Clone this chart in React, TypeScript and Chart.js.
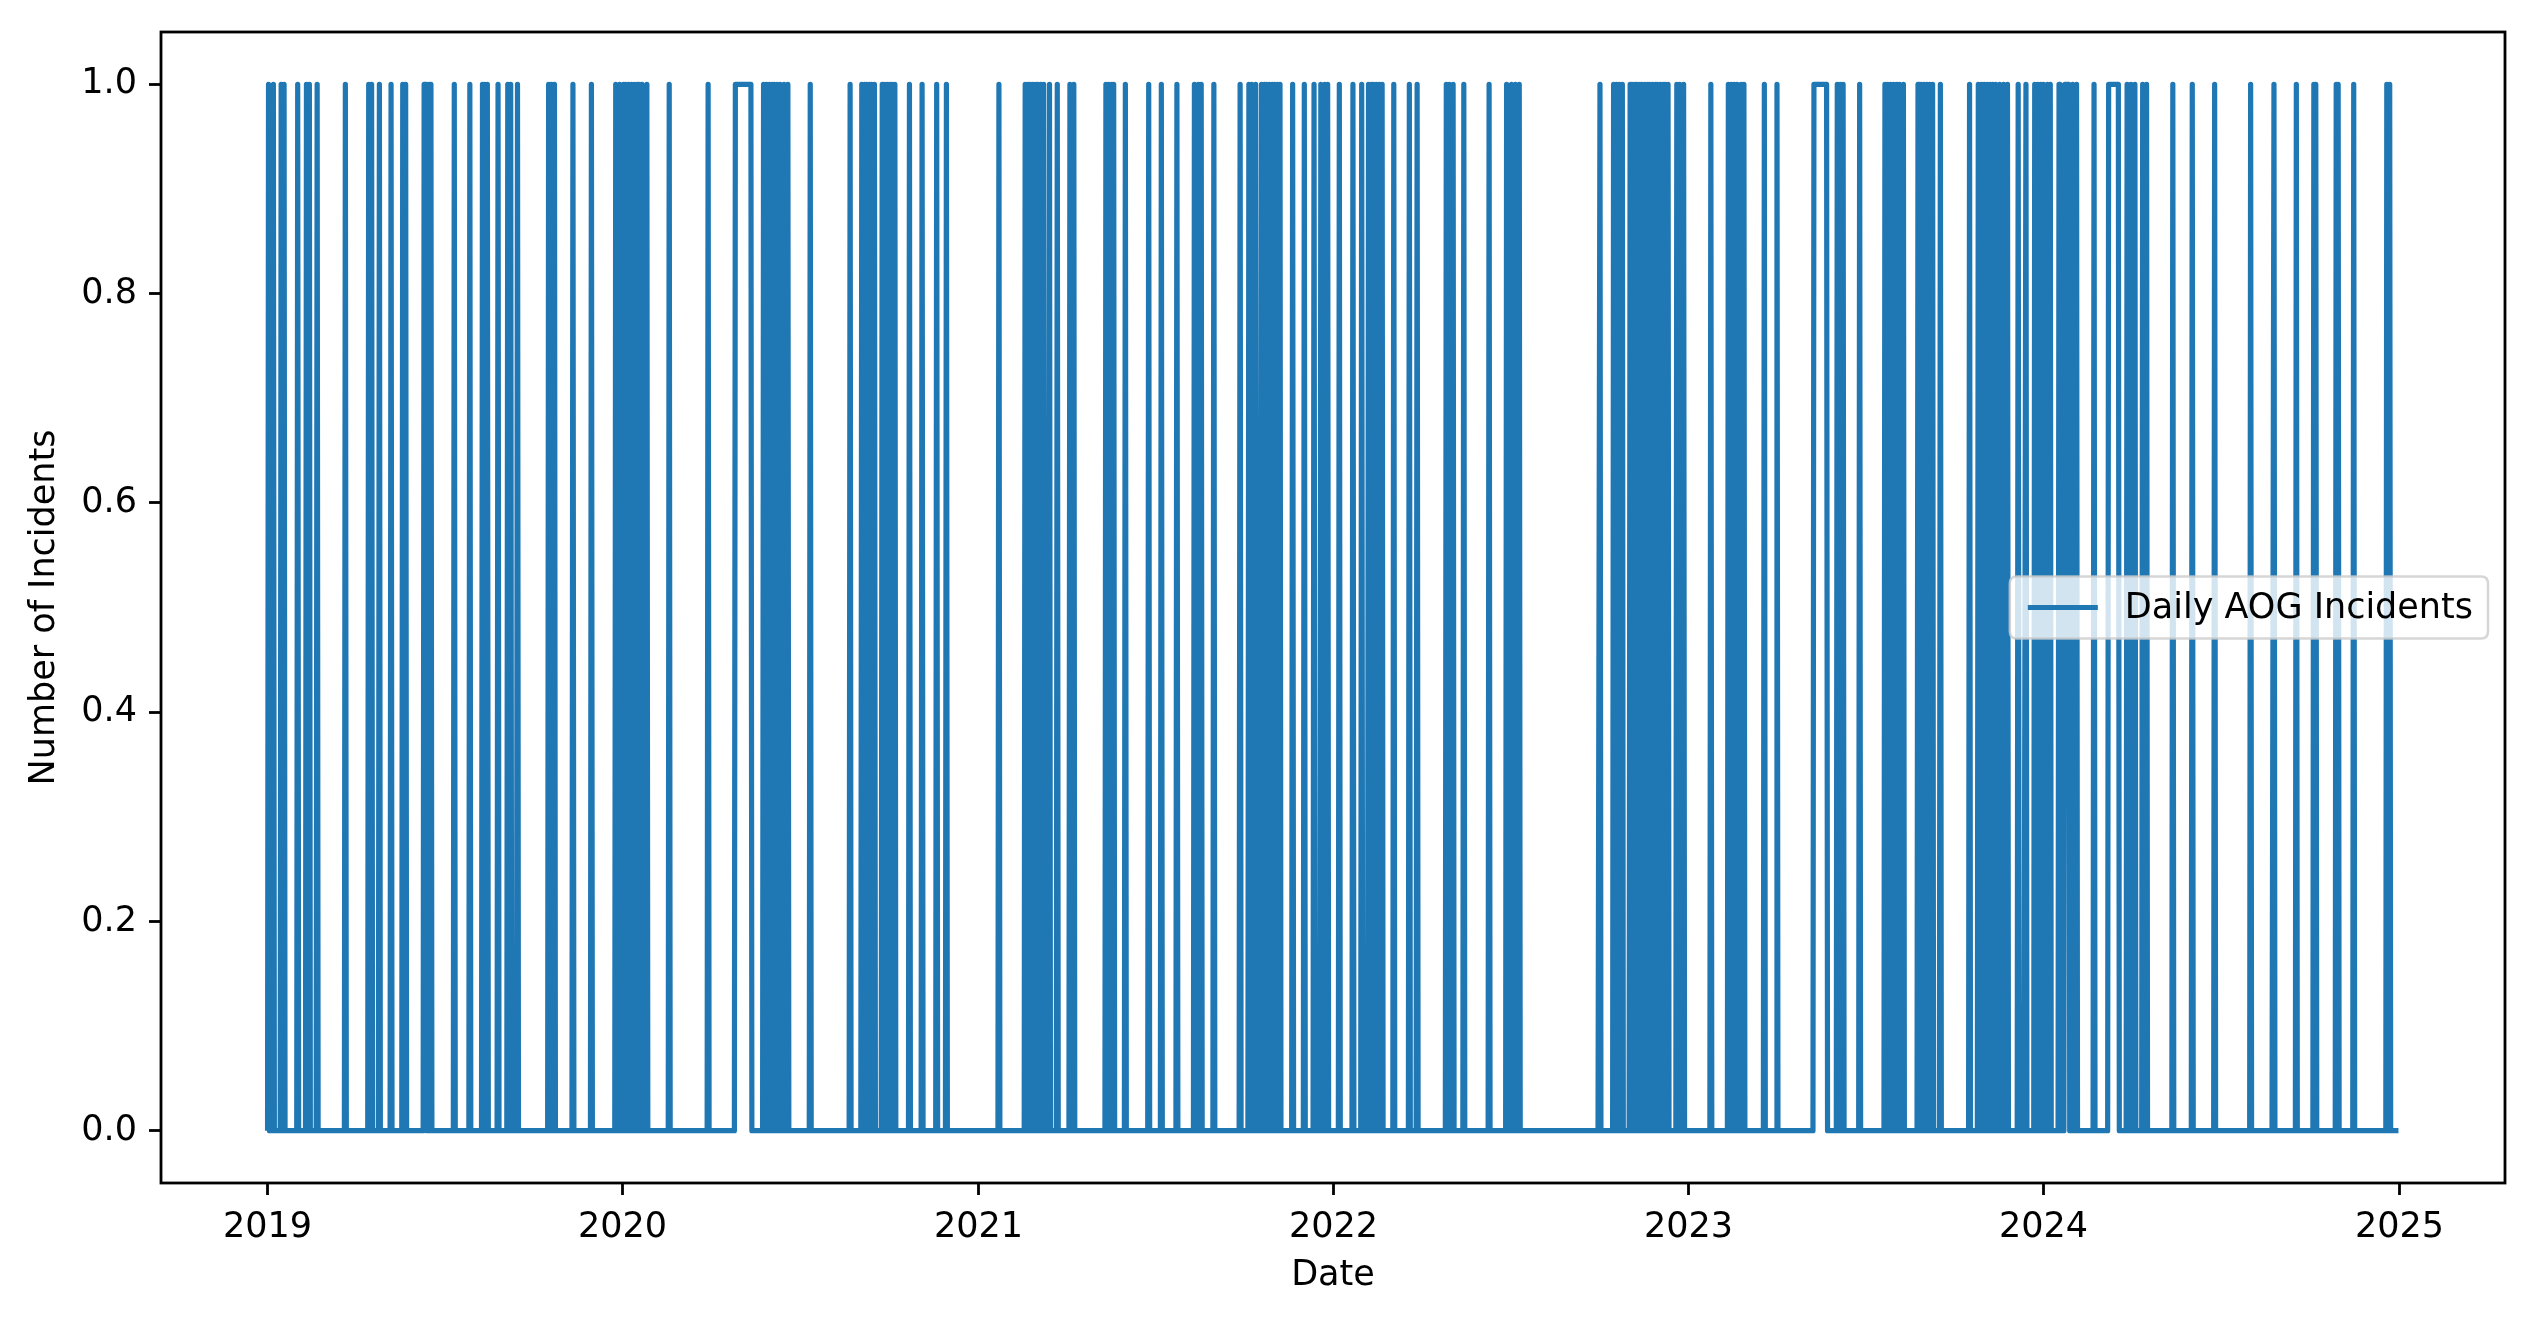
import React, { useEffect, useRef } from "react";
import { Chart, registerables } from "chart.js";

Chart.register(...registerables);

// Day 0 = 2019-01-01, last day = 2024-12-31
const START_DATE = "2019-01-01";
const TOTAL_DAYS = 2192;

// Single days (offset from START_DATE) with one AOG incident
const incidentDays = [
  1, 6, 14, 17, 31, 40, 43, 51, 80, 104, 107, 115, 127, 139, 142, 161, 162, 163, 166, 168,
  192, 208, 221, 223, 226, 237, 247, 250, 257, 289, 292, 295, 314, 333, 358,
  362, 366, 368, 371, 374, 377, 380, 382, 385, 390, 413, 453, 510, 513, 516, 519, 521, 524, 527, 531, 535,
  558, 599, 611, 614, 616, 619, 621, 624, 632, 634, 637, 640, 642, 645, 660, 673, 688, 698,
  752, 779, 782, 784, 787, 790, 792, 795, 798, 804, 812, 825, 829, 862, 865, 868, 870, 882, 906, 919,
  935, 953, 957, 960, 973, 1000, 1009, 1012, 1016, 1022, 1025, 1027, 1030, 1033, 1035, 1038, 1041, 1054, 1066, 1076, 1083, 1087, 1090, 1102,
  1116, 1125, 1132, 1135, 1137, 1140, 1143, 1146, 1158, 1174, 1182, 1212, 1215, 1219, 1230, 1256, 1274, 1279, 1283, 1287,
  1370, 1384, 1387, 1390, 1393, 1401, 1403, 1406, 1408, 1411, 1413, 1416, 1419, 1421, 1424, 1427, 1429, 1432, 1435, 1437, 1440, 1449, 1452, 1456,
  1484, 1502, 1505, 1508, 1511, 1515, 1518, 1539, 1552, 1614, 1617, 1620, 1637,
  1663, 1666, 1669, 1672, 1675, 1678, 1682, 1697, 1700, 1703, 1706, 1709, 1712, 1720, 1750, 1759, 1762, 1765, 1768, 1771, 1774, 1777, 1781, 1785, 1789, 1800, 1808, 1817, 1820, 1823, 1826, 1830, 1833, 1842,
  1856, 1860, 1878, 1912, 1916, 1920, 1928, 1932, 1959, 1979, 2002,
  2039, 2063, 2086, 2104, 2106, 2127, 2129, 2145, 2179, 2182,
];

// Runs of consecutive days with an incident [firstDay, lastDay]
const incidentRuns = [
  [481, 497],
  [1590, 1603],
  [1848, 1852],
  [1893, 1903],
];

const yearTickDays = [0, 365, 731, 1096, 1461, 1826, 2192];
const yearTickLabels = ["2019", "2020", "2021", "2022", "2023", "2024", "2025"];
const yTickValues = [0, 0.2, 0.4, 0.6, 0.8, 1.0];

const SERIES_LABEL = "Daily AOG Incidents";
const X_TITLE = "Date";
const Y_TITLE = "Number of Incidents";
const LINE_COLOR = "#1f77b4";
const FONT = "DejaVu Sans";

function buildSeries() {
  const values = new Array(TOTAL_DAYS).fill(0);
  incidentDays.forEach((d) => {
    if (d >= 0 && d < TOTAL_DAYS) values[d] = 1;
  });
  incidentRuns.forEach(([a, b]) => {
    for (let d = a; d <= b; d++) values[d] = 1;
  });
  return values.map((v, i) => ({ x: i, y: v }));
}

const frameAndLegend = {
  id: "frameAndLegend",
  afterDraw(chart: any) {
    const { ctx, chartArea } = chart;
    const { left, right, top, bottom } = chartArea;
    ctx.save();
    // spines
    ctx.strokeStyle = "#000";
    ctx.lineWidth = 2.8;
    ctx.strokeRect(left, top, right - left, bottom - top);

    // legend (center right)
    ctx.font = `35px "${FONT}"`;
    const textW = ctx.measureText(SERIES_LABEL).width;
    const padL = 18;
    const handle = 70;
    const gap = 27;
    const padR = 15;
    const boxW = padL + handle + gap + textW + padR;
    const boxH = 62;
    const boxRight = right - 17;
    const boxX = boxRight - boxW;
    const cy = (top + bottom) / 2;
    const boxY = cy - boxH / 2;
    const r = 7;
    ctx.beginPath();
    ctx.moveTo(boxX + r, boxY);
    ctx.lineTo(boxX + boxW - r, boxY);
    ctx.quadraticCurveTo(boxX + boxW, boxY, boxX + boxW, boxY + r);
    ctx.lineTo(boxX + boxW, boxY + boxH - r);
    ctx.quadraticCurveTo(boxX + boxW, boxY + boxH, boxX + boxW - r, boxY + boxH);
    ctx.lineTo(boxX + r, boxY + boxH);
    ctx.quadraticCurveTo(boxX, boxY + boxH, boxX, boxY + boxH - r);
    ctx.lineTo(boxX, boxY + r);
    ctx.quadraticCurveTo(boxX, boxY, boxX + r, boxY);
    ctx.closePath();
    ctx.fillStyle = "rgba(255,255,255,0.8)";
    ctx.fill();
    ctx.strokeStyle = "rgba(204,204,204,0.8)";
    ctx.lineWidth = 2.5;
    ctx.stroke();

    ctx.beginPath();
    ctx.strokeStyle = LINE_COLOR;
    ctx.lineWidth = 5.2;
    ctx.moveTo(boxX + padL, cy);
    ctx.lineTo(boxX + padL + handle, cy);
    ctx.stroke();

    ctx.fillStyle = "#000";
    ctx.textBaseline = "middle";
    ctx.textAlign = "left";
    ctx.fillText(SERIES_LABEL, boxX + padL + handle + gap, cy + 1);
    ctx.restore();
  },
};

export default function App() {
  const canvasRef = useRef<HTMLCanvasElement | null>(null);

  useEffect(() => {
    const canvas = canvasRef.current;
    if (!canvas) return;
    const data = buildSeries();
    const chart = new Chart(canvas, {
      type: "line",
      data: {
        datasets: [
          {
            label: SERIES_LABEL,
            data,
            borderColor: LINE_COLOR,
            backgroundColor: LINE_COLOR,
            borderWidth: 5.2,
            pointRadius: 0,
            tension: 0,
            fill: false,
            borderJoinStyle: "round",
            borderCapStyle: "butt",
          },
        ],
      },
      options: {
        animation: false,
        responsive: false,
        devicePixelRatio: 1,
        parsing: false,
        normalized: true,
        layout: { padding: { left: 0, right: 10, top: 24, bottom: 0 } },
        plugins: {
          legend: { display: false },
          tooltip: { enabled: false },
          title: { display: false },
        },
        scales: {
          x: {
            type: "linear",
            min: -109.55,
            max: TOTAL_DAYS - 1 + 109.55,
            afterBuildTicks: (scale: any) => {
              scale.ticks = yearTickDays.map((v) => ({ value: v }));
            },
            afterFit: (scale: any) => {
              scale.height = 127;
              scale.paddingLeft = 0;
              scale.paddingRight = 0;
            },
            ticks: {
              autoSkip: false,
              maxRotation: 0,
              padding: 12,
              color: "#000",
              font: { family: FONT, size: 35 },
              callback: (v: any) => {
                const i = yearTickDays.indexOf(Number(v));
                return i >= 0 ? yearTickLabels[i] : "";
              },
            },
            grid: {
              drawOnChartArea: false,
              drawTicks: true,
              tickLength: 12,
              tickWidth: 2.8,
              tickColor: "#000",
            },
            border: { display: false },
            title: {
              display: true,
              text: X_TITLE,
              color: "#000",
              font: { family: FONT, size: 35, lineHeight: 1.2 },
              padding: { top: 0, bottom: 13 },
            },
          },
          y: {
            type: "linear",
            min: -0.05,
            max: 1.05,
            afterBuildTicks: (scale: any) => {
              scale.ticks = yTickValues.map((v) => ({ value: v }));
            },
            afterFit: (scale: any) => {
              scale.width = 153;
              scale.paddingTop = 0;
              scale.paddingBottom = 0;
            },
            ticks: {
              padding: 12,
              color: "#000",
              font: { family: FONT, size: 35 },
              callback: (v: any) => Number(v).toFixed(1),
            },
            grid: {
              drawOnChartArea: false,
              drawTicks: true,
              tickLength: 12,
              tickWidth: 2.8,
              tickColor: "#000",
            },
            border: { display: false },
            title: {
              display: true,
              text: Y_TITLE,
              color: "#000",
              font: { family: FONT, size: 35, lineHeight: 1.2 },
              padding: { top: 16, bottom: 0 },
            },
          },
        },
      },
      plugins: [frameAndLegend],
    });
    return () => chart.destroy();
  }, []);

  return (
    <div style={{ width: 2507, height: 1302 }}>
      <canvas ref={canvasRef} width={2507} height={1302} style={{ display: "block" }} data-start={START_DATE} />
    </div>
  );
}
